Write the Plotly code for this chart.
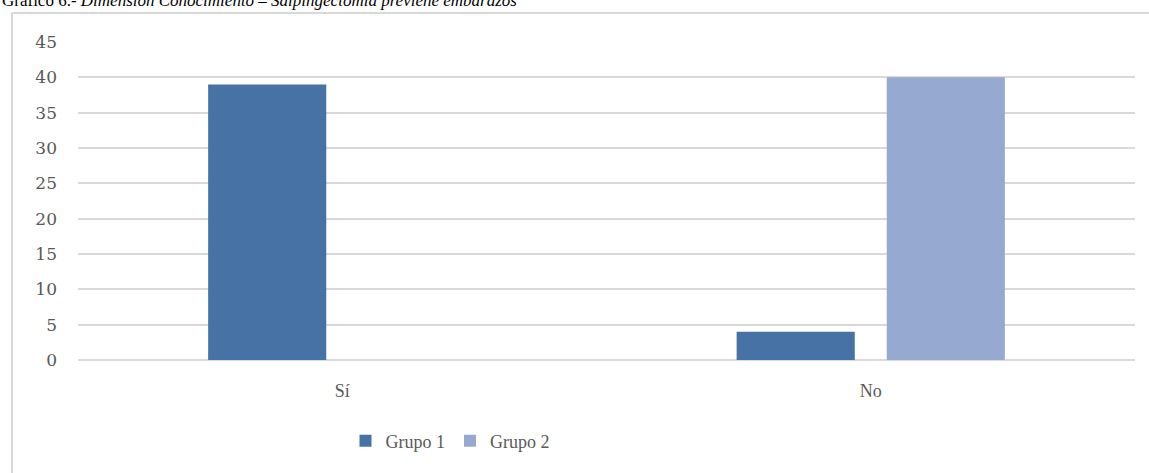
import plotly.graph_objects as go

categorias = ["Sí", "No"]
grupo_1 = [39, 4]
grupo_2 = [0, 40]

W, H = 1149, 473
L, R, T, B = 78, 14, 42, 113
pw, ph = W - L - R, H - T - B


def px_x(x):
    return (x - L) / pw


def px_y(y):
    return (H - B - y) / ph


fig = go.Figure()
fig.add_trace(go.Bar(x=categorias, y=grupo_1, name="Grupo 1",
                     marker=dict(color="#4672A6", line=dict(width=0))))
fig.add_trace(go.Bar(x=categorias, y=grupo_2, name="Grupo 2",
                     marker=dict(color="#96A9D0", line=dict(width=0))))

fig.update_layout(
    width=W, height=H,
    margin=dict(l=L, r=R, t=T, b=B),
    paper_bgcolor="white", plot_bgcolor="white",
    barmode="group", bargap=0.432, bargroupgap=0.213,
    font=dict(family="Liberation Serif", size=16, color="#595959"),
    showlegend=True,
    legend=dict(orientation="h", x=px_x(450), xanchor="center",
                y=px_y(441), yanchor="middle",
                font=dict(size=18, color="#595959"), itemwidth=30),
    xaxis=dict(showline=False, ticks="", showgrid=False, ticklabelstandoff=18,
               tickfont=dict(size=18, color="#595959")),
    yaxis=dict(range=[0, 45], dtick=5, showgrid=True, gridcolor="#D9D9D9",
               gridwidth=1.5, zeroline=True, zerolinecolor="#D9D9D9",
               zerolinewidth=1.5, ticks="", showline=False, ticklabelstandoff=20,
               tickfont=dict(family="DejaVu Serif", size=17, color="#595959")),
    shapes=[dict(type="rect", xref="paper", yref="paper",
                 x0=px_x(12), x1=px_x(1300), y0=px_y(700), y1=px_y(13),
                 line=dict(color="#D9D9D9", width=2), layer="below")],
    annotations=[dict(
        text="Gráfico 6.- <i>Dimensión Conocimiento – Salpingectomía previene embarazos</i>",
        xref="paper", yref="paper", x=px_x(0), xanchor="left",
        y=px_y(12), yanchor="bottom", showarrow=False,
        font=dict(family="Liberation Serif", size=17, color="black"))],
)

fig.write_html("out.html", config={"displayModeBar": False},
               post_script="document.body.style.margin='0';")
